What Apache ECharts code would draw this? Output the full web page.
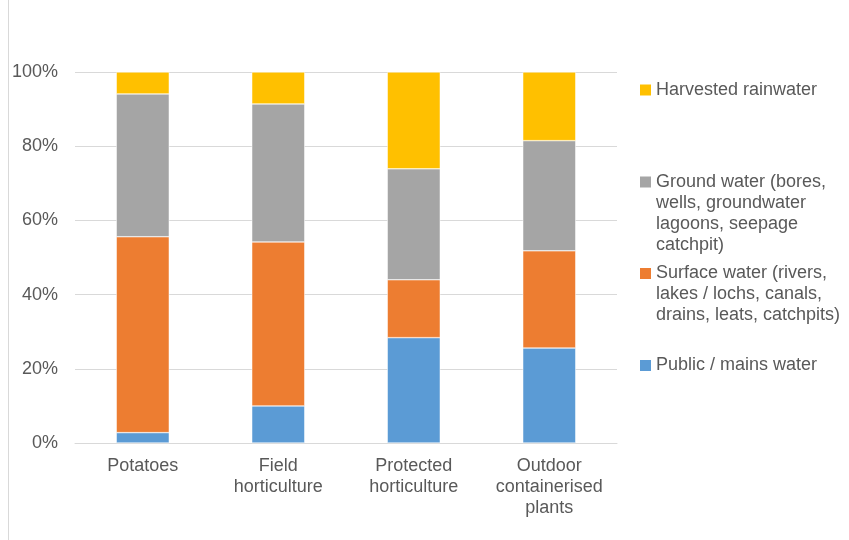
<!DOCTYPE html>
<html>
<head>
<meta charset="utf-8">
<script src="https://cdn.jsdelivr.net/npm/echarts@6/dist/echarts.min.js"></script>
<style>
    html, body { margin: 0; padding: 0; background: #fff; }
    #chart { width: 849px; height: 540px; }
</style>
</head>
<body>
<div id="chart"></div>
<script>
    var categories = ['Potatoes', 'Field\nhorticulture', 'Protected\nhorticulture', 'Outdoor\ncontainerised\nplants'];

    var seriesNames = [
        'Public / mains water',
        'Surface water (rivers, lakes / lochs, canals, drains, leats, catchpits)',
        'Ground water (bores, wells, groundwater lagoons, seepage catchpit)',
        'Harvested rainwater'
    ];

    // legend text as wrapped in the picture
    var legendLines = [
        ['Public / mains water'],
        ['Surface water (rivers,', 'lakes / lochs, canals,', 'drains, leats, catchpits)'],
        ['Ground water (bores,', 'wells, groundwater', 'lagoons, seepage', 'catchpit)'],
        ['Harvested rainwater']
    ];

    var publicWater = [2.8, 10.0, 28.4, 25.6];
    var surfaceWater = [52.8, 44.2, 15.6, 26.2];
    var groundWater = [38.5, 37.2, 29.9, 29.7];
    var rainWater = [5.9, 8.6, 26.1, 18.5];

    var colors = ['#5B9BD5', '#ED7D31', '#A5A5A5', '#FFC000'];
    var legendIconY = [365.5, 273.5, 182, 90];

    var FONT = 'Liberation Sans, Arial, sans-serif';
    var TEXT_COLOR = '#595959';
    var LINE_H = 21;

    var values = [publicWater, surfaceWater, groundWater, rainWater];

    var series = values.map(function (data, i) {
        return {
            name: seriesNames[i],
            type: 'bar',
            stack: 'total',
            barWidth: 53,
            data: data,
            itemStyle: { color: colors[i], borderColor: '#fff', borderWidth: 0.5 }
        };
    });

    var legends = seriesNames.map(function (name, i) {
        var n = legendLines[i].length;
        // blank lines above keep the first line level with the icon
        var text = new Array(n).join(' \n') + legendLines[i].join('\n');
        return {
            data: [name],
            left: 640,
            top: legendIconY[i] - (2 * n - 1) * LINE_H / 2,
            padding: 0,
            orient: 'vertical',
            icon: 'rect',
            itemWidth: 11,
            itemHeight: 11,
            itemStyle: { borderWidth: 0 },
            formatter: function () {
                return text;
            },
            textStyle: {
                fontFamily: FONT,
                fontSize: 18,
                color: TEXT_COLOR,
                lineHeight: LINE_H
            }
        };
    });

    var chart = echarts.init(document.getElementById('chart'), null, { renderer: 'canvas' });

    chart.setOption({
        animation: false,
        textStyle: { fontFamily: FONT },
        grid: { left: 75, right: 232, top: 72, bottom: 97, containLabel: false },
        legend: legends,
        xAxis: {
            type: 'category',
            data: categories,
            axisLine: { lineStyle: { color: '#d9d9d9', width: 1 } },
            axisTick: { show: false },
            axisLabel: {
                interval: 0,
                margin: 13,
                fontFamily: FONT,
                fontSize: 18,
                lineHeight: LINE_H,
                color: TEXT_COLOR
            }
        },
        yAxis: {
            type: 'value',
            min: 0,
            max: 100,
            interval: 20,
            axisLine: { show: false },
            axisTick: { show: false },
            splitLine: { lineStyle: { color: '#d9d9d9', width: 1 } },
            axisLabel: {
                margin: 17,
                fontFamily: FONT,
                fontSize: 18,
                color: TEXT_COLOR,
                formatter: '{value}%'
            }
        },
        graphic: [{
            type: 'line',
            shape: { x1: 8.5, y1: 0, x2: 8.5, y2: 540 },
            style: { stroke: '#d9d9d9', lineWidth: 1 }
        }],
        series: series
    });
</script>
</body>
</html>
